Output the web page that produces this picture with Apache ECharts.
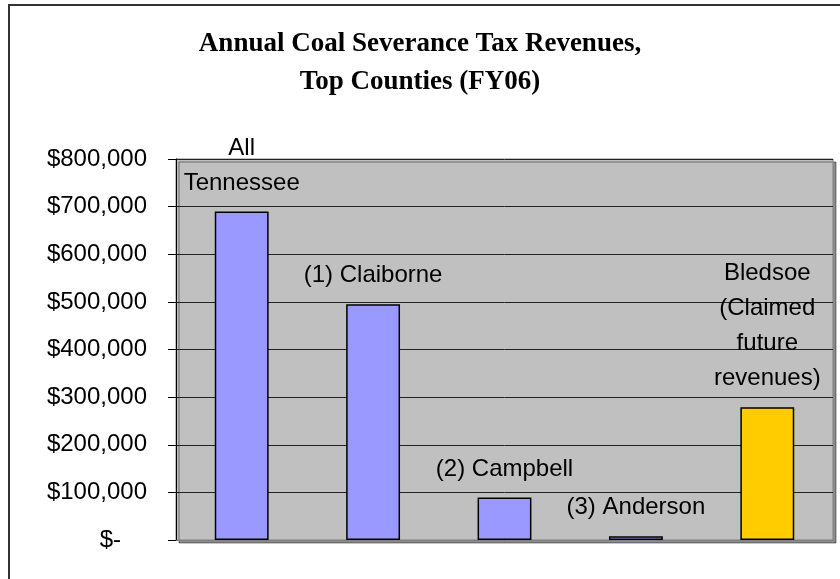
<!DOCTYPE html>
<html>
<head>
<meta charset="utf-8">
<script src="https://cdn.jsdelivr.net/npm/echarts@6/dist/echarts.min.js"></script>
<style>
  html, body { margin: 0; padding: 0; background: #fff; }
  #main { width: 840px; height: 579px; }
</style>
</head>
<body>
<div id="main"></div>
<script>
// data
var categories = ['All\nTennessee', '(1) Claiborne', '(2) Campbell', '(3) Anderson', 'Bledsoe\n(Claimed\nfuture\nrevenues)'];
var revenues = [690000, 495000, 89000, 8000, 279000];
var barColors = ['#9999FF', '#9999FF', '#9999FF', '#9999FF', '#FFCC00'];
var yTicks = [0, 100000, 200000, 300000, 400000, 500000, 600000, 700000, 800000];

var myChart = echarts.init(document.getElementById('main'));

var barData = [];
for (var i = 0; i < revenues.length; i++) {
    barData.push({ value: revenues[i], itemStyle: { color: barColors[i] } });
}

function money(v) {
    if (v === 0) return '{z|$-}';
    return '$' + v.toString().replace(/\B(?=(\d{3})+(?!\d))/g, ',');
}

myChart.setOption({
    animation: false,
    title: {
        text: 'Annual Coal Severance Tax Revenues,\nTop Counties (FY06)',
        left: 'center',
        top: 20,
        textStyle: {
            fontFamily: 'Liberation Serif',
            fontWeight: 'bold',
            fontSize: 27,
            lineHeight: 38,
            color: '#000'
        }
    },
    // outer frame of the chart area
    graphic: [{
        type: 'rect',
        shape: { x: 9, y: 5, width: 900, height: 700 },
        style: { fill: 'none', stroke: '#333', lineWidth: 2 },
        silent: true
    }],
    grid: {
        left: 176,
        top: 159,
        right: 7,
        bottom: 39,
        show: true,
        backgroundColor: '#C0C0C0',
        borderColor: '#808080',
        borderWidth: 1,
        shadowColor: 'rgba(0,0,0,0.45)',
        shadowOffsetX: 3,
        shadowOffsetY: 3,
        shadowBlur: 0
    },
    xAxis: {
        type: 'category',
        data: categories,
        axisLine: { show: true, lineStyle: { color: '#808080', width: 1 } },
        axisTick: { show: false },
        axisLabel: { show: false }
    },
    yAxis: {
        type: 'value',
        min: yTicks[0],
        max: yTicks[yTicks.length - 1],
        interval: 100000,
        axisLine: { show: true, lineStyle: { color: '#000', width: 1 } },
        axisTick: { show: true, inside: false, length: 8, lineStyle: { color: '#000' } },
        splitLine: { show: true, lineStyle: { color: '#222', width: 1 } },
        axisLabel: {
            margin: 29,
            fontFamily: 'Liberation Sans',
            fontSize: 24,
            color: '#000',
            formatter: money,
            rich: {
                z: { fontFamily: 'Liberation Sans', fontSize: 24, color: '#000', padding: [0, 26, 0, 0] }
            }
        }
    },
    series: [{
        type: 'bar',
        data: barData,
        barWidth: '41%',
        itemStyle: { borderColor: '#000', borderWidth: 1.5 },
        label: {
            show: true,
            position: 'top',
            distance: 11,
            fontFamily: 'Liberation Sans',
            fontSize: 24,
            lineHeight: 35,
            color: '#000',
            align: 'center',
            formatter: function (p) { return p.name; }
        }
    }]
});
</script>
</body>
</html>
